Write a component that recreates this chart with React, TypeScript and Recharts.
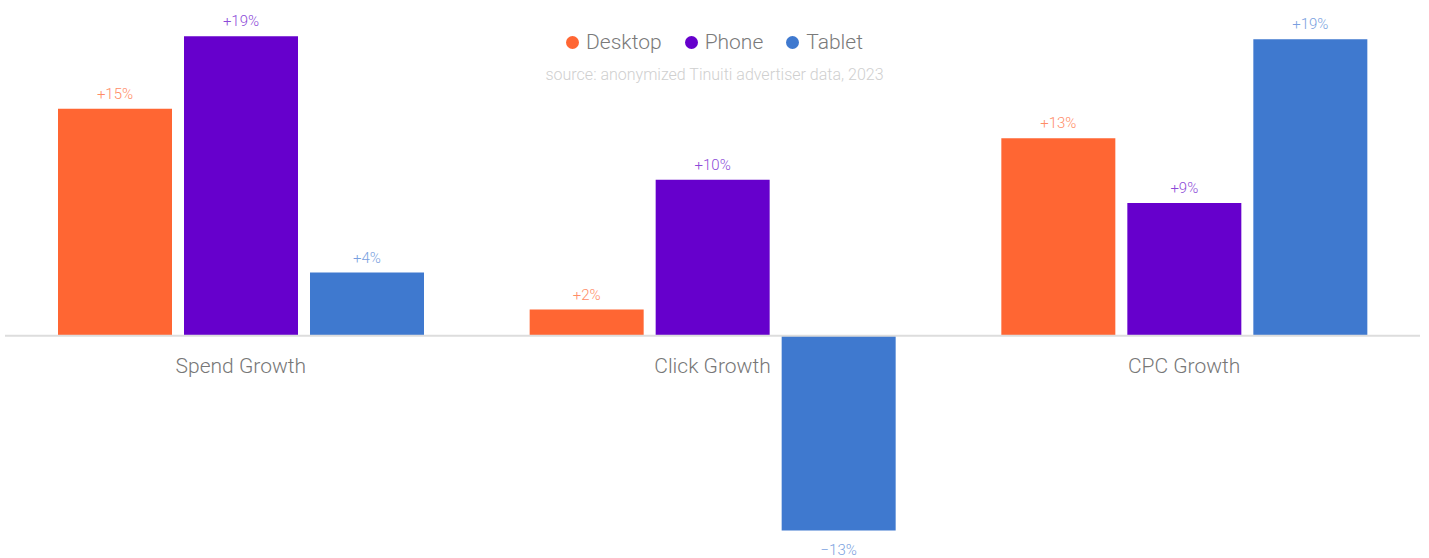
import React from "react";
import {
  ComposedChart,
  Bar,
  XAxis,
  YAxis,
  ReferenceLine,
  ReferenceDot,
  LabelList,
  Legend,
} from "recharts";

const categories = ["Spend Growth", "Click Growth", "CPC Growth"];
const desktop = [14.7, 1.7, 12.8];
const phone = [19.4, 10.1, 8.6];
const tablet = [4.1, -12.6, 19.2];

const seriesNames = ["Desktop", "Phone", "Tablet"];
const colors = ["#ff6633", "#6600cc", "#3f79cf"];
const labelColors = ["#ff8c66", "#8c4ad8", "#7a9fe0"];

const data = categories.map((name, i) => ({
  name,
  Desktop: desktop[i],
  Phone: phone[i],
  Tablet: tablet[i],
}));

const font = "Roboto, sans-serif";

const fmt = (v: number) => {
  const r = Math.round(v);
  return (r < 0 ? "\u2212" : "+") + Math.abs(r) + "%";
};

const makeLabel = (color: string) => (props: any) => {
  const { x, y, width, height, value } = props;
  const top = Math.min(y, y + height);
  const bottom = Math.max(y, y + height);
  const ty = value < 0 ? bottom + 25 : top - 10;
  return (
    <text
      x={x + width / 2}
      y={ty}
      textAnchor="middle"
      fill={color}
      fontSize={15}
      fontFamily={font}
      fontWeight={300}
    >
      {fmt(value)}
    </text>
  );
};

const LegendContent = () => (
  <div style={{ fontFamily: font, textAlign: "center" }}>
    <div style={{ display: "flex", justifyContent: "center", gap: 23 }}>
      {seriesNames.map((n, i) => (
        <div key={n} style={{ display: "flex", alignItems: "center", gap: 7 }}>
          <span
            style={{
              width: 13,
              height: 13,
              borderRadius: "50%",
              background: colors[i],
              display: "inline-block",
            }}
          />
          <span style={{ fontSize: 21, color: "#7a7a7a", fontWeight: 300, lineHeight: "24px" }}>
            {n}
          </span>
        </div>
      ))}
    </div>
    <div style={{ fontSize: 16, color: "#cfcfcf", fontWeight: 300, marginTop: 11 }}>
      source: anonymized Tinuiti advertiser data, 2023
    </div>
  </div>
);

export default function App() {
  return (
    <div style={{ position: "absolute", left: 0, top: 0, background: "#fff" }}>
      <ComposedChart
        width={1429}
        height={558}
        data={data}
        margin={{ top: 27, right: 9, left: 5, bottom: 6 }}
        barGap={12}
      >
        <XAxis dataKey="name" hide />
        <YAxis hide domain={[-14, 20]} allowDataOverflow />
        <Legend
          layout="horizontal"
          verticalAlign="middle"
          align="center"
          content={<LegendContent />}
          wrapperStyle={{ top: 30, left: 0, width: 1429 }}
        />
        {seriesNames.map((n, i) => (
          <Bar
            key={n}
            dataKey={n}
            fill={colors[i]}
            barSize={114}
            isAnimationActive={false}
          >
            <LabelList dataKey={n} content={makeLabel(labelColors[i])} />
          </Bar>
        ))}
        <ReferenceLine y={0} stroke="#dddddd" strokeWidth={2} />
        {categories.map((c) => (
          <ReferenceDot
            key={c}
            x={c}
            y={0}
            shape={(p: any) => (
              <text
                x={p.cx}
                y={p.cy + 37}
                textAnchor="middle"
                fill="#777777"
                fontSize={21}
                fontFamily={font}
                fontWeight={300}
              >
                {c}
              </text>
            )}
          />
        ))}
      </ComposedChart>
    </div>
  );
}
